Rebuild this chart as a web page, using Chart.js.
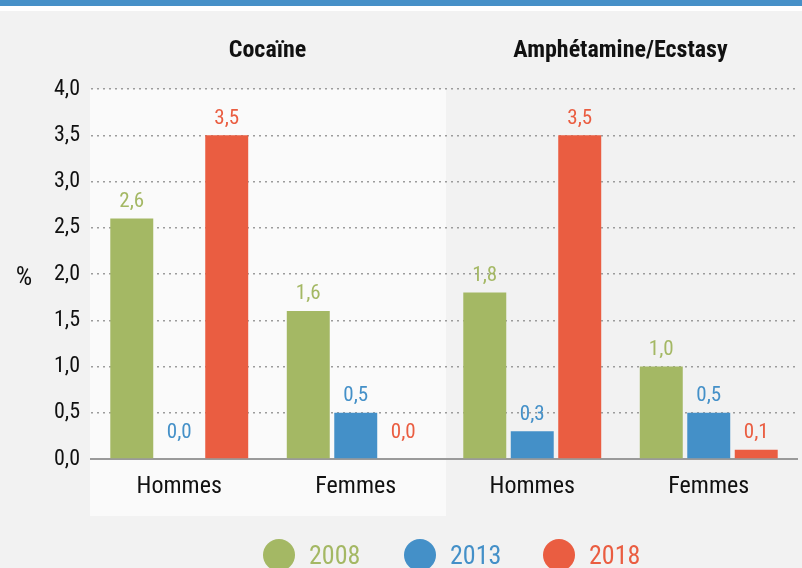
<!DOCTYPE html>
<html>
<head>
<meta charset="utf-8">
<script src="https://cdn.jsdelivr.net/npm/chart.js@4"></script>
<style>
  html, body { margin: 0; padding: 0; background: #f2f2f2; }
  #wrap { width: 802px; height: 568px; position: relative; }
</style>
</head>
<body>
<div id="wrap"><canvas id="myChart" width="802" height="568"></canvas></div>
<script>
// données
const categories = ['Hommes', 'Femmes', 'Hommes', 'Femmes'];
const groupTitles = ['Cocaïne', 'Amphétamine/Ecstasy'];
const years = ['2008', '2013', '2018'];
const values2008 = [2.6, 1.6, 1.8, 1.0];
const values2013 = [0.0, 0.5, 0.3, 0.5];
const values2018 = [3.5, 0.0, 3.5, 0.1];
const yMin = 0, yMax = 4, yStep = 0.5;

const colors = ['#a4b864', '#4490c8', '#ea5d41'];
const FONT = '"Liberation Sans Narrow", "Roboto Condensed", "Open Sans", sans-serif';

const fmt = v => v.toFixed(1).replace('.', ',');

const decorPlugin = {
  id: 'decor',
  beforeDraw(chart) {
    const c = chart.ctx, a = chart.chartArea, x = chart.scales.x;
    c.save();
    c.fillStyle = '#f2f2f2';
    c.fillRect(0, 0, chart.width, chart.height);
    c.fillStyle = '#4690c8';
    c.fillRect(0, 0, chart.width, 6);
    c.fillStyle = '#ffffff';
    c.fillRect(0, 6, chart.width, 5);
    // panneau clair derrière le premier groupe
    const mid = (x.getPixelForValue(1) + x.getPixelForValue(2)) / 2;
    c.fillStyle = '#fafafa';
    c.fillRect(a.left - 1, a.top, mid + 3 - a.left, 516 - a.top);
    c.restore();
  },
  afterDraw(chart) {
    const c = chart.ctx, a = chart.chartArea, x = chart.scales.x, y = chart.scales.y;
    c.save();
    // titres de groupe
    c.fillStyle = '#111';
    c.font = 'bold 24px ' + FONT;
    c.textAlign = 'center';
    c.textBaseline = 'middle';
    groupTitles.forEach((t, i) => {
      const cx = (x.getPixelForValue(i * 2) + x.getPixelForValue(i * 2 + 1)) / 2;
      c.fillText(t, cx, 51);
    });
    // unité
    c.font = '26px ' + FONT;
    c.fillText('%', 24, 278);
    // étiquettes de valeurs
    c.font = '21px ' + FONT;
    const zeroY = y.getPixelForValue(0);
    chart.data.datasets.forEach((ds, di) => {
      const meta = chart.getDatasetMeta(di);
      c.fillStyle = ds.backgroundColor;
      meta.data.forEach((bar, i) => {
        const ly = Math.min(bar.y - 17, zeroY - 26);
        c.fillText(fmt(ds.data[i]), bar.x, ly);
      });
    });
    // légende
    const legendX = [279, 420, 559];
    c.font = '26px ' + FONT;
    c.textAlign = 'left';
    chart.data.datasets.forEach((ds, di) => {
      c.fillStyle = ds.backgroundColor;
      c.beginPath();
      c.arc(legendX[di], 555, 16, 0, Math.PI * 2);
      c.fill();
      c.fillText(ds.label, legendX[di] + 30, 557);
    });
    c.restore();
  }
};

const ctx = document.getElementById('myChart').getContext('2d');
const myChart = new Chart(ctx, {
  type: 'bar',
  data: {
    labels: categories,
    datasets: [
      { label: years[0], data: values2008, backgroundColor: colors[0] },
      { label: years[1], data: values2013, backgroundColor: colors[1] },
      { label: years[2], data: values2018, backgroundColor: colors[2] }
    ]
  },
  options: {
    responsive: false,
    animation: false,
    layout: { padding: { top: 89, right: 5, bottom: 69, left: 0 } },
    datasets: { bar: { categoryPercentage: 0.807, barPercentage: 0.905 } },
    plugins: { legend: { display: false }, tooltip: { enabled: false } },
    scales: {
      x: {
        grid: { display: false, drawTicks: false },
        border: { color: '#9a9a9a', width: 2 },
        ticks: { color: '#111', font: { family: FONT, size: 24 }, padding: 14 },
        afterFit(s) { s.height = 40; }
      },
      y: {
        min: yMin, max: yMax,
        grid: { color: '#9c9c9c', drawTicks: false, lineWidth: 1.5 },
        border: { display: false, dash: [2, 4] },
        ticks: { stepSize: yStep, color: '#111', font: { family: FONT, size: 22 }, padding: 11,
                 callback: v => fmt(v) },
        afterFit(s) { s.width = 91; }
      }
    }
  },
  plugins: [decorPlugin]
});
</script>
</body>
</html>
